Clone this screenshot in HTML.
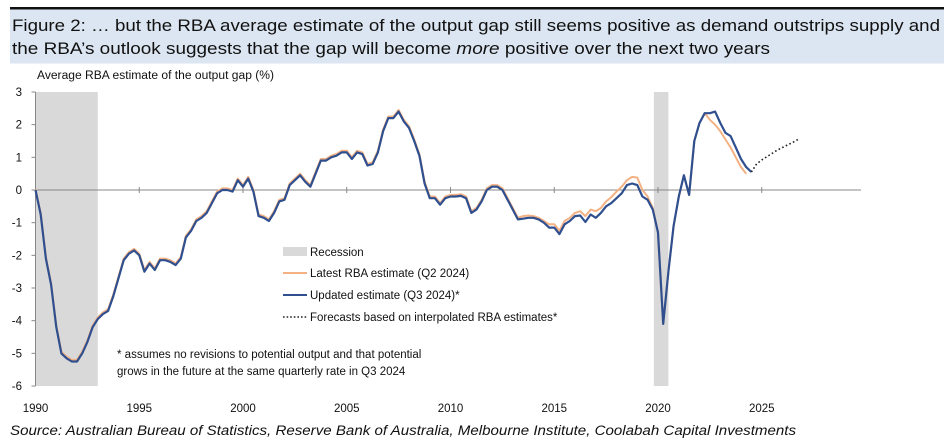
<!DOCTYPE html>
<html><head><meta charset="utf-8"><style>
body{margin:0;background:#fff;}
svg{display:block;font-family:"Liberation Sans",sans-serif;}
</style></head><body>
<svg id="chart" width="946" height="443">
<rect x="10" y="7" width="934" height="2.5" fill="#111"/>
<rect x="10" y="9.5" width="934" height="54" fill="#dce6f2"/>
<text x="12" y="31" font-size="17" fill="#111" textLength="928" lengthAdjust="spacingAndGlyphs">Figure 2: … but the RBA average estimate of the output gap still seems positive as demand outstrips supply and</text>
<text x="12" y="54" font-size="17" fill="#111" textLength="758" lengthAdjust="spacingAndGlyphs">the RBA’s outlook suggests that the gap will become <tspan font-style="italic">more</tspan> positive over the next two years</text>
<text x="37" y="79" font-size="11.5" fill="#111" textLength="237" lengthAdjust="spacingAndGlyphs">Average RBA estimate of the output gap (%)</text>
<g id="plot"></g>
<g>
<rect x="283" y="247" width="24" height="9" fill="#d9d9d9"/>
<text x="310" y="256" font-size="11.5" fill="#111">Recession</text>
<line x1="283" y1="273" x2="307" y2="273" stroke="#f4b183" stroke-width="2"/>
<text x="310" y="277" font-size="11.5" fill="#111">Latest RBA estimate (Q2 2024)</text>
<line x1="283" y1="295" x2="307" y2="295" stroke="#2f4f8f" stroke-width="2"/>
<text x="310" y="299" font-size="11.5" fill="#111">Updated estimate (Q3 2024)*</text>
<line x1="283" y1="317" x2="307" y2="317" stroke="#222" stroke-width="1.6" stroke-dasharray="1.6 2"/>
<text x="310" y="321" font-size="11.5" fill="#111">Forecasts based on interpolated RBA estimates*</text>
</g>
<text x="117" y="358" font-size="11.5" fill="#111">* assumes no revisions to potential output and that potential</text>
<text x="117" y="375" font-size="11.5" fill="#111">grows in the future at the same quarterly rate in Q3 2024</text>
<text x="10" y="435" font-size="13.5" font-style="italic" fill="#111" textLength="786" lengthAdjust="spacingAndGlyphs">Source: Australian Bureau of Statistics, Reserve Bank of Australia, Melbourne Institute, Coolabah Capital Investments</text>
</svg>
<script>
const startYear = 1990;
const updatedValues = [0,-0.75,-2.1,-2.9,-4.2,-5.0,-5.15,-5.25,-5.25,-5.0,-4.65,-4.2,-3.95,-3.8,-3.7,-3.25,-2.7,-2.15,-1.95,-1.85,-2.0,-2.5,-2.25,-2.45,-2.15,-2.15,-2.2,-2.3,-2.1,-1.45,-1.25,-0.95,-0.85,-0.7,-0.4,-0.1,0.0,0.0,-0.05,0.3,0.1,0.35,-0.05,-0.8,-0.85,-0.95,-0.7,-0.35,-0.3,0.15,0.3,0.45,0.25,0.1,0.5,0.9,0.9,1.0,1.05,1.15,1.15,0.95,1.15,1.1,0.75,0.8,1.15,1.8,2.2,2.2,2.4,2.1,1.9,1.5,1.05,0.2,-0.25,-0.25,-0.45,-0.25,-0.2,-0.2,-0.18,-0.25,-0.7,-0.6,-0.35,0.0,0.1,0.1,0.0,-0.3,-0.6,-0.9,-0.88,-0.85,-0.85,-0.9,-1.0,-1.15,-1.15,-1.35,-1.05,-0.95,-0.8,-0.78,-0.98,-0.75,-0.85,-0.7,-0.5,-0.4,-0.25,-0.1,0.15,0.2,0.15,-0.2,-0.3,-0.6,-1.3,-4.1,-2.5,-1.1,-0.2,0.45,-0.15,1.5,2.05,2.35,2.35,2.4,2.05,1.75,1.65,1.3,0.95,0.7,0.55];
const latestValues = [0.02,-0.7,-2.05,-2.85,-4.15,-4.95,-5.1,-5.2,-5.2,-4.95,-4.6,-4.15,-3.9,-3.75,-3.65,-3.2,-2.65,-2.1,-1.9,-1.8,-1.95,-2.45,-2.2,-2.4,-2.1,-2.1,-2.15,-2.25,-2.05,-1.4,-1.2,-0.9,-0.8,-0.65,-0.35,-0.05,0.05,0.05,0.0,0.35,0.15,0.4,0.0,-0.75,-0.8,-0.9,-0.65,-0.3,-0.25,0.2,0.35,0.5,0.3,0.15,0.55,0.95,0.95,1.05,1.1,1.2,1.2,1.0,1.2,1.15,0.8,0.85,1.2,1.85,2.25,2.25,2.45,2.15,1.95,1.55,1.1,0.25,-0.2,-0.2,-0.4,-0.2,-0.15,-0.15,-0.13,-0.2,-0.65,-0.55,-0.3,0.05,0.15,0.15,0.05,-0.25,-0.55,-0.85,-0.8,-0.78,-0.8,-0.85,-0.95,-1.05,-1.05,-1.25,-0.95,-0.85,-0.7,-0.65,-0.8,-0.6,-0.65,-0.55,-0.35,-0.22,-0.05,0.1,0.3,0.4,0.38,0.0,-0.2,-0.55,-1.3,-4.1,-2.5,-1.1,-0.2,0.45,-0.15,1.5,2.05,2.35,2.15,2.0,1.8,1.55,1.3,1.0,0.7,0.5];
const forecastStart = 2024.5;
const forecastValues = [0.55,0.8,0.92,1.02,1.12,1.22,1.3,1.38,1.46,1.55];
const recessionStarts = [1990.0, 2019.8];
const recessionEnds = [1993.0, 2020.5];
const yTicks = [3,2,1,0,-1,-2,-3,-4,-5,-6];
const xTickYears = [1990,1995,2000,2005,2010,2015,2020,2025];

const NS = "http://www.w3.org/2000/svg";
const X0 = 35.5, PXY = 20.75, Y0 = 190, PXU = 32.67;
const xs = t => X0 + (t - 1990) * PXY;
const ys = v => Y0 - v * PXU;
const plot = document.getElementById('plot');
function mk(tag, attrs){const e=document.createElementNS(NS,tag);for(const k in attrs)e.setAttribute(k,attrs[k]);plot.appendChild(e);return e;}

recessionStarts.forEach((s,i)=>{
  const r = mk('rect',{x:xs(s),y:ys(3),width:xs(recessionEnds[i])-xs(s),height:ys(-6)-ys(3),fill:'#d9d9d9'});
  
  
});
const yAxis = mk('line',{x1:X0,y1:ys(3),x2:X0,y2:ys(-6),stroke:'#888','stroke-width':1});


yTicks.forEach(v=>{
  const t = mk('line',{x1:X0-4,y1:ys(v),x2:X0,y2:ys(v),stroke:'#888'});
  
  
  const l = mk('text',{x:22,y:ys(v)+4,'font-size':11.5,'text-anchor':'end',fill:'#111'});
  l.textContent = v;
  
  
});
const xAxis = mk('line',{x1:X0,y1:Y0,x2:861,y2:Y0,stroke:'#888','stroke-width':1});


xTickYears.forEach(y=>{
  const t = mk('line',{x1:xs(y),y1:Y0-3,x2:xs(y),y2:Y0+3,stroke:'#888'});
  
  
  const l = mk('text',{x:xs(y),y:412,'font-size':11.5,'text-anchor':'middle',fill:'#111'});
  l.textContent = y;
  
  
});
function path(vals, start){return vals.map((v,i)=>(i?'L':'M')+xs(start+i*0.25).toFixed(1)+','+ys(v).toFixed(1)).join(' ');}
const lo = mk('path',{d:path(latestValues,startYear),fill:'none',stroke:'#f4b183','stroke-width':2,'stroke-linejoin':'round'});


const up = mk('path',{d:path(updatedValues,startYear),fill:'none',stroke:'#2f4f8f','stroke-width':2.2,'stroke-linejoin':'round'});


const fc = mk('path',{d:path(forecastValues,forecastStart),fill:'none',stroke:'#222','stroke-width':1.6,'stroke-dasharray':'1.6 2.4'});


</script>
</body></html>
